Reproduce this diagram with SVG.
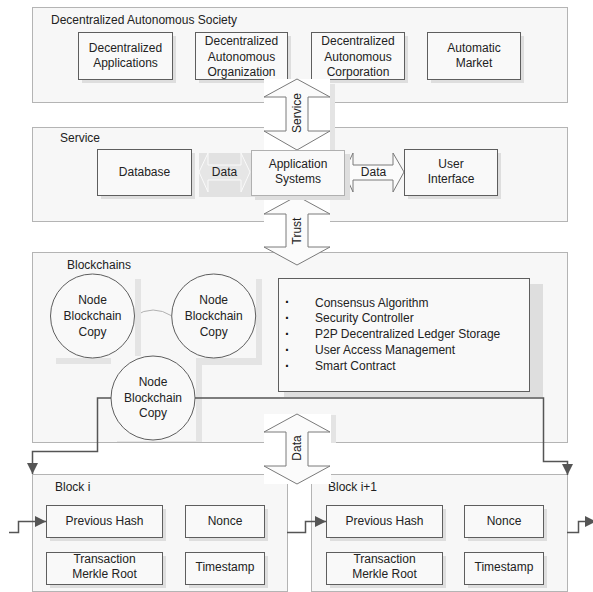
<svg xmlns="http://www.w3.org/2000/svg" width="593" height="592" viewBox="0 0 593 592">
<style>
.panel{fill:#f7f7f7;stroke:#b4b4b4;stroke-width:1}
.box{fill:#f9f9f9;stroke:#5e5e5e;stroke-width:1}
.lbox{fill:#f9f9f9;stroke:#b0b0b0;stroke-width:1}
.sh{fill:#dedede}
.csh{fill:#e4e4e4}
.cbb{fill:#f7f7f7}
.circ{fill:#f9f9f9;stroke:#5e5e5e;stroke-width:1}
.t{font-family:"Liberation Sans",Arial,sans-serif;font-size:12px;fill:#222}
.c{text-anchor:middle}
.bul{font-family:"Liberation Sans",Arial,sans-serif;font-size:14px;font-weight:bold;fill:#111}
.arr{fill:#fbfbfb;stroke:#7a7a7a;stroke-width:1}
.wbb{fill:#ffffff}
.conn{fill:none;stroke:#555;stroke-width:1.5}
.link{fill:none;stroke:#a8a8a8;stroke-width:0.9}
</style>
<defs>
<marker id="ah" markerUnits="userSpaceOnUse" markerWidth="13" markerHeight="13" refX="11" refY="6" orient="auto" overflow="visible">
<path d="M0,0.5 L11,6 L0,11.5 Z" fill="#555"/>
</marker>
</defs>
<rect width="593" height="592" fill="#ffffff"/>

<!-- panels -->
<g id="panel-society">
<rect class="panel" x="32.5" y="7.5" width="535" height="95"/>
<text class="t" x="51" y="24">Decentralized Autonomous Society</text>
</g>
<g id="panel-service">
<rect class="panel" x="32.5" y="127.5" width="535" height="94"/>
<text class="t" x="60" y="142">Service</text>
</g>
<g id="panel-blockchains">
<rect class="panel" x="32.5" y="252.5" width="535" height="190"/>
<text class="t" x="67" y="269">Blockchains</text>
</g>
<g id="panel-block-i">
<rect class="panel" x="32.5" y="474.5" width="255" height="117"/>
<text class="t" x="55" y="491">Block i</text>
</g>
<g id="panel-block-i1">
<rect class="panel" x="311.5" y="474.5" width="256" height="117"/>
<text class="t" x="328" y="491">Block i+1</text>
</g>

<!-- society boxes -->
<g id="dapps">
<rect class="sh" x="82" y="36" width="94" height="47"/>
<rect class="box" x="78.5" y="32.5" width="94" height="47"/>
<text class="t c" x="125.5" y="52">Decentralized</text>
<text class="t c" x="125.5" y="67">Applications</text>
</g>
<g id="dao">
<rect class="sh" x="199" y="36" width="92" height="47"/>
<rect class="box" x="195.5" y="32.5" width="92" height="47"/>
<text class="t c" x="241.5" y="45">Decentralized</text>
<text class="t c" x="241.5" y="61">Autonomous</text>
<text class="t c" x="241.5" y="76">Organization</text>
</g>
<g id="dac">
<rect class="sh" x="315" y="36" width="93" height="47"/>
<rect class="box" x="311.5" y="32.5" width="93" height="47"/>
<text class="t c" x="358" y="45">Decentralized</text>
<text class="t c" x="358" y="61">Autonomous</text>
<text class="t c" x="358" y="76">Corporation</text>
</g>
<g id="market">
<rect class="sh" x="431" y="36" width="93" height="47"/>
<rect class="box" x="427.5" y="32.5" width="93" height="47"/>
<text class="t c" x="474" y="52">Automatic</text>
<text class="t c" x="474" y="67">Market</text>
</g>

<!-- service boxes -->
<g id="database">
<rect class="sh" x="101" y="153" width="94" height="46"/>
<rect class="box" x="97.5" y="149.5" width="94" height="46"/>
<text class="t c" x="144.5" y="176">Database</text>
</g>
<g id="user-interface">
<rect class="sh" x="408" y="153" width="93" height="46"/>
<rect class="box" x="404.5" y="149.5" width="93" height="46"/>
<text class="t c" x="451" y="168">User</text>
<text class="t c" x="451" y="183">Interface</text>
</g>

<!-- blockchains content -->
<g id="links">
<path class="link" d="M134.5,316 Q153,304 172,316"/>
</g>
<g id="node1">
<rect class="csh" x="56" y="279" width="85" height="85"/>
<rect class="cbb" x="50" y="273" width="85" height="85"/>
<circle class="circ" cx="92.5" cy="316" r="42"/>
<text class="t c" x="92.5" y="304">Node</text>
<text class="t c" x="92.5" y="320">Blockchain</text>
<text class="t c" x="92.5" y="336">Copy</text>
</g>
<g id="node2">
<rect class="csh" x="177" y="279" width="85" height="86"/>
<rect class="cbb" x="171" y="273" width="85" height="85"/>
<circle class="circ" cx="213.7" cy="316" r="42"/>
<text class="t c" x="213.7" y="304">Node</text>
<text class="t c" x="213.7" y="320">Blockchain</text>
<text class="t c" x="213.7" y="336">Copy</text>
</g>
<g id="node3">
<rect class="csh" x="117" y="362" width="85" height="80"/>
<rect class="cbb" x="111" y="356" width="85" height="85"/>
<circle class="circ" cx="153" cy="398" r="42"/>
<text class="t c" x="153" y="386">Node</text>
<text class="t c" x="153" y="402">Blockchain</text>
<text class="t c" x="153" y="417">Copy</text>
</g>
<g id="features">
<rect class="sh" x="284" y="284" width="259" height="113"/>
<rect class="box" x="278.5" y="278.5" width="251" height="113"/>
<text class="bul" x="285" y="307">·</text>
<text class="bul" x="285" y="323">·</text>
<text class="bul" x="285" y="339">·</text>
<text class="bul" x="285" y="355">·</text>
<text class="bul" x="285" y="371">·</text>
<text class="t" x="315" y="307">Consensus Algorithm</text>
<text class="t" x="315" y="322">Security Controller</text>
<text class="t" x="315" y="338">P2P Decentralized Ledger Storage</text>
<text class="t" x="315" y="354">User Access Management</text>
<text class="t" x="315" y="370">Smart Contract</text>
</g>

<!-- block i -->
<g id="bi-prev">
<rect class="sh" x="50" y="509" width="116" height="32"/>
<rect class="box" x="46.5" y="505.5" width="116" height="32"/>
<text class="t c" x="104.5" y="525">Previous Hash</text>
</g>
<g id="bi-nonce">
<rect class="sh" x="189" y="509" width="79" height="32"/>
<rect class="box" x="185.5" y="505.5" width="79" height="32"/>
<text class="t c" x="225" y="525">Nonce</text>
</g>
<g id="bi-merkle">
<rect class="sh" x="50" y="556" width="116" height="32"/>
<rect class="box" x="46.5" y="552.5" width="116" height="32"/>
<text class="t c" x="104.5" y="563">Transaction</text>
<text class="t c" x="104.5" y="578">Merkle Root</text>
</g>
<g id="bi-time">
<rect class="sh" x="189" y="556" width="79" height="32"/>
<rect class="box" x="185.5" y="552.5" width="79" height="32"/>
<text class="t c" x="225" y="571">Timestamp</text>
</g>

<!-- block i+1 -->
<g id="bj-prev">
<rect class="sh" x="330" y="509" width="116" height="32"/>
<rect class="box" x="326.5" y="505.5" width="116" height="32"/>
<text class="t c" x="384.5" y="525">Previous Hash</text>
</g>
<g id="bj-nonce">
<rect class="sh" x="468" y="509" width="79" height="32"/>
<rect class="box" x="464.5" y="505.5" width="79" height="32"/>
<text class="t c" x="504" y="525">Nonce</text>
</g>
<g id="bj-merkle">
<rect class="sh" x="330" y="556" width="116" height="32"/>
<rect class="box" x="326.5" y="552.5" width="116" height="32"/>
<text class="t c" x="384.5" y="563">Transaction</text>
<text class="t c" x="384.5" y="578">Merkle Root</text>
</g>
<g id="bj-time">
<rect class="sh" x="468" y="556" width="79" height="32"/>
<rect class="box" x="464.5" y="552.5" width="79" height="32"/>
<text class="t c" x="504" y="571">Timestamp</text>
</g>

<!-- connectors -->
<g id="connectors">
<path class="conn" d="M111,398 H97.5 V451.5 H32.5 V474" marker-end="url(#ah)"/>
<path class="conn" d="M195,398 H543.5 V461.5 H567.5 V475" marker-end="url(#ah)"/>
<path class="conn" d="M9,532.5 H18.5 V521.5 H46" marker-end="url(#ah)"/>
<path class="conn" d="M287,532.5 H305.5 V521.5 H326" marker-end="url(#ah)"/>
<path class="conn" d="M567,532.5 H578.5 V521.5 H596" marker-end="url(#ah)"/>

<!-- Service double arrow -->
<rect class="csh" x="330" y="84" width="5" height="66"/>
<rect class="wbb" x="264" y="79" width="66" height="71"/>
<polygon class="arr" points="297,79 330,97 308,97 308,131 330,131 297,150 264,131 286,131 286,97 264,97"/>
<text class="t c" transform="translate(297,113) rotate(-90)" dy="4">Service</text>

<!-- Trust double arrow -->
<rect class="wbb" x="264" y="196" width="66" height="55"/>
<polygon class="arr" points="297,196 330,214 308,214 308,247 330,247 297,265 264,247 286,247 286,214 264,214"/>
<text class="t c" transform="translate(297,231) rotate(-90)" dy="4">Trust</text>

<!-- Data double arrow (vertical) -->
<rect class="csh" x="331" y="415" width="5" height="28"/>
<rect class="wbb" x="264" y="414" width="67" height="70"/>
<polygon class="arr" points="297,414 330,432 308,432 308,466 330,466 297,484 264,466 286,466 286,432 264,432"/>
<text class="t c" transform="translate(297,448) rotate(-90)" dy="4">Data</text>

<!-- Data arrow left (Database - App) -->
<rect fill="#e2e2e2" x="199" y="153" width="56" height="44"/>
<polygon fill="#e6e6e6" stroke="#fafafa" stroke-width="1" points="199,172 208,153 208,165 241,165 241,153 250,172 241,192 241,180 208,180 208,192"/>
<text class="t c" x="224.5" y="176">Data</text>

<!-- Data arrow right (App - UI) -->
<polygon class="arr" points="344,172 353,153 353,165 393,165 393,153 404,172 393,192 393,180 353,180 353,192"/>
<text class="t c" x="373.5" y="176">Data</text>
</g>

<g id="application-systems">
<rect class="sh" x="255" y="154" width="95" height="46"/>
<rect class="lbox" x="251.5" y="150.5" width="93" height="45"/>
<text class="t c" x="298" y="168">Application</text>
<text class="t c" x="298" y="183">Systems</text>
</g>
</svg>
